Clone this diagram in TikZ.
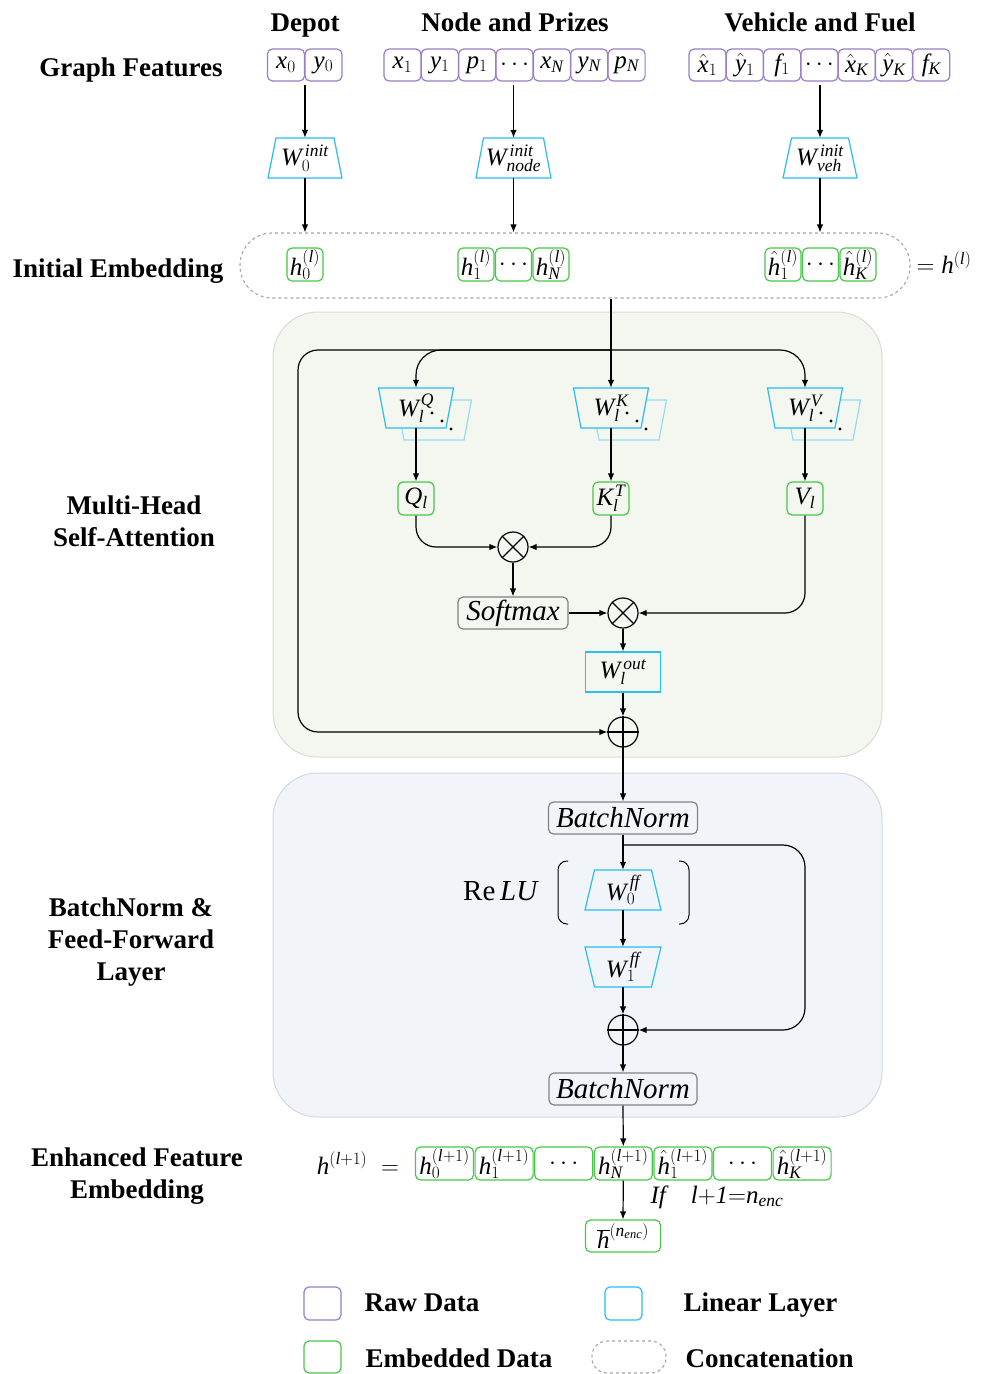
\documentclass[tikz,border=0pt]{standalone}
\usepackage{fontspec}
\setmainfont{Liberation Serif}
\usetikzlibrary{arrows.meta,calc}
\definecolor{rawc}{RGB}{155,125,195}
\definecolor{linc}{RGB}{40,190,240}
\definecolor{shc}{RGB}{150,220,245}
\definecolor{embc}{RGB}{70,200,70}
\definecolor{greyc}{RGB}{130,130,130}
\definecolor{dashc}{RGB}{165,165,165}
\definecolor{attbg}{RGB}{243,247,240}
\definecolor{attbd}{RGB}{215,220,212}
\definecolor{ffbg}{RGB}{241,245,250}
\definecolor{ffbd}{RGB}{212,216,222}
\newcommand{\mathfs}{\fontsize{25}{29}\selectfont}
\newcommand{\itfs}{\fontsize{29}{33}\selectfont\itshape}
\newcommand{\lblfs}{\fontsize{27}{32}\selectfont\bfseries}
\newcommand{\mi}[1]{\mathit{#1}}
\newcommand{\hh}{{\smash{\hat{\mi{h}}}\vphantom{\mi{h}}}}
\newcommand{\mytrap}[7]{%
  \draw[draw=linc, line width=1.2pt, fill=#7] ({#2-#4/2},{#3-20}) -- ({#2+#4/2},{#3-20}) -- ({#2+#5/2},{#3+20}) -- ({#2-#5/2},{#3+20}) -- cycle;
  \node[inner sep=0pt, minimum width=#5, minimum height=40pt, font=\mathfs] (#1) at (#2,#3) {#6};
}
\newcommand{\myshadow}[4]{%
  \draw[draw=shc, line width=1.2pt, fill=attbg] ({#1+18-#3/2},{#2-8}) -- ({#1+18+#3/2},{#2-8}) -- ({#1+18+#4/2},{#2+32}) -- ({#1+18-#4/2},{#2+32}) -- cycle;
}
\newcommand{\mydots}[2]{%
  \fill ({#1+16},{#2+5}) circle (1.7pt);
  \fill ({#1+26},{#2+13}) circle (1.7pt);
  \fill ({#1+35},{#2+21}) circle (1.7pt);
}
\tikzset{
  lin/.style={line width=1.2pt},
  arr/.style={line width=1.2pt, -{Latex[length=8pt,width=6.5pt]}},
  raw/.style={draw=rawc, line width=1.2pt, rounded corners=5pt, minimum width=37pt, minimum height=32pt, inner sep=0pt, font=\mathfs},
  emb/.style={draw=embc, line width=1.2pt, rounded corners=5pt, minimum width=36pt, minimum height=33pt, inner sep=0pt, font=\mathfs},
  gbox/.style={draw=greyc, line width=1.2pt, rounded corners=5pt, minimum height=32pt, inner sep=0pt, font=\itfs},
  lbl/.style={font=\lblfs, anchor=base},
  opc/.style={draw, circle, line width=1.2pt, minimum size=30pt, inner sep=0pt},
}
\begin{document}
\begin{tikzpicture}[x=1pt,y=-1pt]
\useasboundingbox (0,0) rectangle (988,1374);
% backgrounds
\draw[fill=attbg, draw=attbd, line width=1pt, rounded corners=45pt] (273,312) rectangle (882,757);
\draw[fill=ffbg, draw=ffbd, line width=1pt, rounded corners=45pt] (273,773) rectangle (882,1117);
% labels
\node[lbl] (lgf) at (131,76) {Graph Features};
\node[lbl] (lie) at (118,277) {Initial Embedding};
\node[lbl] (lmh1) at (134,514) {Multi-Head};
\node[lbl] (lmh2) at (134,546) {Self-Attention};
\node[lbl] (lbn1) at (131,916) {BatchNorm \&};
\node[lbl] (lbn2) at (131,948) {Feed-Forward};
\node[lbl] (lbn3) at (131,980) {Layer};
\node[lbl] (lef1) at (137,1166) {Enhanced Feature};
\node[lbl] (lef2) at (137,1198) {Embedding};
\node[lbl] (hdep) at (305,31) {Depot};
\node[lbl] (hnod) at (515,31) {Node and Prizes};
\node[lbl] (hveh) at (820,31) {Vehicle and Fuel};
% raw data
\node[raw] (d0) at (286,65) {$\mi{x}_0$};
\node[raw] (d1) at (323.5,65) {$\mi{y}_0$};
\foreach \t [count=\i from 0] in {$\mi{x}_1$,$\mi{y}_1$,$\mi{p}_1$,$\cdots$,$\mi{x}_{\mi{N}}$,$\mi{y}_{\mi{N}}$,$\mi{p}_{\mi{N}}$}
  \node[raw] (n\i) at ({402.5+37.35*\i},65) {\t};
\foreach \t [count=\i from 0] in {$\hat{\mi{x}}_1$,$\hat{\mi{y}}_1$,$\mi{f}_1$,$\cdots$,$\hat{\mi{x}}_{\mi{K}}$,$\hat{\mi{y}}_{\mi{K}}$,$\mi{f}_{\mi{K}}$}
  \node[raw] (v\i) at ({707.5+37.3*\i},65) {\t};
% init linear layers
\mytrap{w0i}{305}{158}{58}{74}{$\mi{W}_0^{\kern3pt\mi{init}}$}{white}
\mytrap{wni}{513.5}{158}{60}{75}{$\mi{W}_{\mi{node}}^{\kern3pt\mi{init}}$}{white}
\mytrap{wvi}{820}{158}{57}{74}{$\mi{W}_{\mi{veh}}^{\kern3pt\mi{init}}$}{white}
\draw[arr, shorten <=3pt] (d0.south -| w0i.north) -- (w0i.north);
\draw[arr, shorten <=3pt] (n3.south -| wni.north) -- (wni.north);
\draw[arr, shorten <=3pt] (v3.south -| wvi.north) -- (wvi.north);
% concatenation
\node[draw=dashc, dashed, line width=1.1pt, rounded corners=32pt, minimum width=670pt, minimum height=65pt] (cat) at (575,265.5) {};
\draw[arr] (w0i.south) -- (w0i.south |- cat.north);
\draw[arr] (wni.south) -- (wni.south |- cat.north);
\draw[arr] (wvi.south) -- (wvi.south |- cat.north);
\node[emb] (e0) at (305,264.5) {$\mi{h}_0^{(\mi{l})}$};
\foreach \t [count=\i from 1] in {$\mi{h}_1^{(\mi{l})}$,$\cdots$,$\mi{h}_{\mi{N}}^{(\mi{l})}$}
  \node[emb] (e\i) at ({438.5+37.5*\i},264.5) {\t};
\foreach \t [count=\i from 1] in {$\hh_1^{(\mi{l})}$,$\cdots$,$\hh_{\mi{K}}^{(\mi{l})}$}
  \node[emb] (f\i) at ({745.5+37.5*\i},264.5) {\t};
\node[font=\mathfs, anchor=west] (hl) at (913,263) {$=\mi{h}^{(\mi{l})}$};
% attention heads
\myshadow{416}{408}{75}{60}
\myshadow{611}{408}{75}{60}
\myshadow{805}{408}{75}{60}
\mytrap{wq}{416}{408}{75}{60}{$\mi{W}_{\mi{l}}^{\kern2pt\mi{Q}}$\hspace{12pt}}{attbg}
\mytrap{wk}{611}{408}{75}{60}{$\mi{W}_{\mi{l}}^{\kern2pt\mi{K}}$\hspace{12pt}}{attbg}
\mytrap{wv}{805}{408}{75}{60}{$\mi{W}_{\mi{l}}^{\kern2pt\mi{V}}$\hspace{12pt}}{attbg}
\mydots{416}{408}
\mydots{611}{408}
\mydots{805}{408}
\coordinate (split) at (611,350);
\coordinate (lc) at (298,350);
\draw[arr] (cat.south -| wk.north) -- (wk.north);
\draw[arr, rounded corners=25pt] (split) -| (wq.north);
\draw[arr, rounded corners=25pt] (split) -| (wv.north);
\node[emb] (q) at (416,498.5) {$\mi{Q}_{\mi{l}}$};
\node[emb] (k) at (611,498.5) {$\mi{K}_{\mi{l}}^{\kern2pt\mi{T}}$};
\node[emb] (v) at (805,498.5) {$\mi{V}_{\mi{l}}$};
\draw[arr] (wq.south) -- (q.north);
\draw[arr] (wk.south) -- (k.north);
\draw[arr] (wv.south) -- (v.north);
\node[opc] (m1) at (513,547) {};
\draw[lin] (m1.north west) -- (m1.south east) (m1.north east) -- (m1.south west);
\draw[arr, rounded corners=20pt] (q.south) |- (m1.west);
\draw[arr, rounded corners=20pt] (k.south) |- (m1.east);
\node[gbox, minimum width=110pt, fill=attbg] (sm) at (513,613) {Softmax};
\draw[arr] (m1.south) -- (sm.north);
\node[opc] (m2) at (623,613) {};
\draw[lin] (m2.north west) -- (m2.south east) (m2.north east) -- (m2.south west);
\draw[arr] (sm.east) -- (m2.west);
\draw[arr, rounded corners=20pt] (v.south) |- (m2.east);
\node[draw=linc, line width=1.2pt, minimum width=75pt, minimum height=40pt, inner sep=0pt, font=\mathfs] (wo) at (623,672) {$\mi{W}_{\mi{l}}^{\kern3pt\mi{out}}$};
\draw[arr] (m2.south) -- (wo.north);
\node[opc] (p1) at (623,732) {};
\draw[lin] (p1.north) -- (p1.south) (p1.west) -- (p1.east);
\draw[arr] (wo.south) -- (p1.north);
\draw[arr, rounded corners=20pt] (split) -- (lc) |- (p1.west);
% feed-forward block
\node[gbox, minimum width=149pt, fill=ffbg] (bn1) at (623,818) {BatchNorm};
\draw[arr] (p1.south) -- (bn1.north);
\mytrap{wf0}{623}{890}{57}{76}{$\mi{W}_0^{\kern3pt\mi{ff}}$}{ffbg}
\mytrap{wf1}{623}{967}{76}{57}{$\mi{W}_1^{\kern3pt\mi{ff}}$}{ffbg}
\draw[arr] (bn1.south) -- (wf0.north);
\draw[arr] (wf0.south) -- (wf1.north);
\draw[line width=1pt, rounded corners=9pt] (568,861) -- (558,861) -- (558,924) -- (568,924);
\draw[line width=1pt, rounded corners=9pt] (679,861) -- (689,861) -- (689,924) -- (679,924);
\node[font=\fontsize{29}{33}\selectfont] (relu) at (501,891) {Re\,\textit{LU}};
\node[opc] (p2) at (623,1030) {};
\draw[lin] (p2.north) -- (p2.south) (p2.west) -- (p2.east);
\draw[arr] (wf1.south) -- (p2.north);
\coordinate (rs) at (623,845);
\coordinate (rc) at (805,845);
\draw[arr, rounded corners=22pt] (rs) -- (rc) |- (p2.east);
\node[gbox, minimum width=148pt, fill=ffbg] (bn2) at (623,1089) {BatchNorm};
\draw[arr] (p2.south) -- (bn2.north);
% enhanced embedding
\node[font=\mathfs] (hl1) at (358,1163) {$\mi{h}^{(\mi{l}+1)}\;=$};
\foreach \t [count=\i from 0] in {$\mi{h}_0^{(\mi{l}+1)}$,$\mi{h}_1^{(\mi{l}+1)}$,$\cdots$,$\mi{h}_{\mi{N}}^{(\mi{l}+1)}$,$\hh_1^{(\mi{l}+1)}$,$\cdots$,$\hh_{\mi{K}}^{(\mi{l}+1)}$}
  \node[emb, minimum width=58pt] (g\i) at ({444.5+59.6*\i},1163.5) {\t};
\draw[arr] (bn2.south) -- (g3.north);
\node[emb, minimum width=75pt, minimum height=32pt] (hb) at (623,1236) {$\overline{\mi{h}}^{(\mi{n}_{\mi{enc}})}$};
\draw[arr] (g3.south) -- (hb.north);
\node[font=\mathfs] (iff) at (717,1197) {$\mi{If}\quad \mi{l}{+}\mi{1}{=}\mi{n}_{\mi{enc}}$};
% legend
\node[draw=rawc, line width=1.2pt, rounded corners=5pt, minimum width=37pt, minimum height=33pt] (lg1) at (322.5,1303.5) {};
\node[font=\lblfs, anchor=base west] (lt1) at (361,1311) {Raw Data};
\node[draw=linc, line width=1.2pt, rounded corners=5pt, minimum width=37pt, minimum height=33pt] (lg2) at (623.5,1303.5) {};
\node[font=\lblfs, anchor=base west] (lt2) at (680,1311) {Linear Layer};
\node[draw=embc, line width=1.2pt, rounded corners=5pt, minimum width=37pt, minimum height=32pt] (lg3) at (322.5,1357) {};
\node[font=\lblfs, anchor=base west] (lt3) at (362,1367) {Embedded Data};
\node[draw=dashc, dashed, line width=1.1pt, rounded corners=15pt, minimum width=74pt, minimum height=32pt] (lg4) at (629,1357) {};
\node[font=\lblfs, anchor=base west] (lt4) at (682,1367) {Concatenation};
\end{tikzpicture}
\end{document}
